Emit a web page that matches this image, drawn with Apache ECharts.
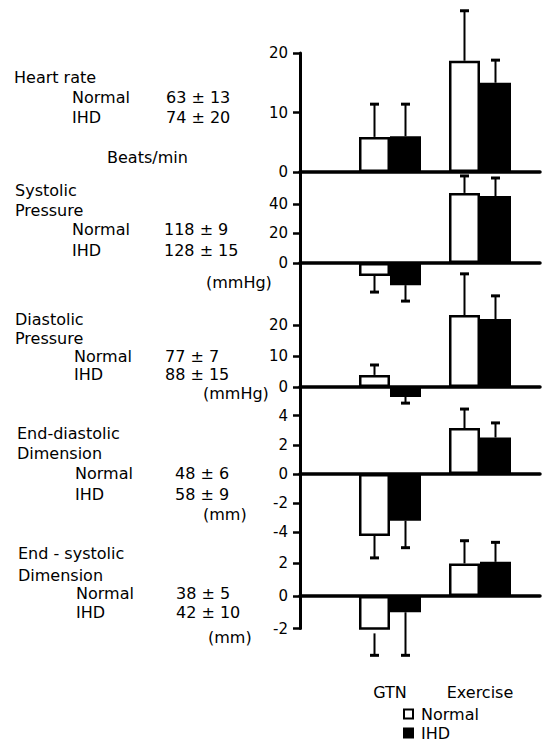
<!DOCTYPE html>
<html>
<head>
<meta charset="utf-8">
<script src="https://cdn.jsdelivr.net/npm/echarts@6/dist/echarts.min.js"></script>
<style>
  html, body { margin: 0; padding: 0; background: #fff; }
  #chart { width: 543px; height: 742px; }
</style>
</head>
<body>
<div id="chart"></div>
<script>
// ---------------- DATA ----------------
const categories = ['GTN', 'Exercise'];
const groups = ['Normal', 'IHD'];

const heartRateNormal   = [5.9, 18.7];
const heartRateNormalSD = [5.5, 8.4];
const heartRateIHD      = [6.0, 15.0];
const heartRateIHDSD    = [5.4, 3.8];

const systolicNormal    = [-8.8, 47.5];
const systolicNormalSD  = [10.9, 11.5];
const systolicIHD       = [-15.0, 45.4];
const systolicIHDSD     = [10.8, 12.2];

const diastolicNormal   = [3.9, 23.2];
const diastolicNormalSD = [3.2, 13.3];
const diastolicIHD      = [-3.2, 21.9];
const diastolicIHDSD    = [2.0, 7.5];

const edDimNormal       = [-4.25, 3.15];
const edDimNormalSD     = [1.5, 1.3];
const edDimIHD          = [-3.2, 2.5];
const edDimIHDSD        = [1.85, 1.0];

const esDimNormal       = [-2.3, 2.0];
const esDimNormalSD     = [1.35, 1.4];
const esDimIHD          = [-1.0, 2.1];
const esDimIHDSD        = [2.65, 1.2];

const heartRateTicks = [0, 10, 20];
const systolicTicks  = [0, 20, 40];
const diastolicTicks = [0, 10, 20];
const edDimTicks     = [-4, -2, 0, 2, 4];
const esDimTicks     = [-2, 0, 2];

const panelTitles = [['Heart rate'], ['Systolic', 'Pressure'], ['Diastolic', 'Pressure'], ['End-diastolic', 'Dimension'], ['End - systolic', 'Dimension']];
const baselineNormal = ['63 ± 13', '118 ± 9', '77 ± 7', '48 ± 6', '38 ± 5'];
const baselineIHD    = ['74 ± 20', '128 ± 15', '88 ± 15', '58 ± 9', '42 ± 10'];
const units          = ['Beats/min', '(mmHg)', '(mmHg)', '(mm)', '(mm)'];

// ---------------- LAYOUT ----------------
const FONT = 'DejaVu Sans';
const BAR_W = 31;
const panels = [
  { normal: heartRateNormal, normalSD: heartRateNormalSD, ihd: heartRateIHD, ihdSD: heartRateIHDSD, ticks: heartRateTicks, min: 0,    max: 20,  top: 53,    bottom: 172 },
  { normal: systolicNormal,  normalSD: systolicNormalSD,  ihd: systolicIHD,  ihdSD: systolicIHDSD,  ticks: systolicTicks,  min: -25,  max: 62,  top: 171.5, bottom: 299.9 },
  { normal: diastolicNormal, normalSD: diastolicNormalSD, ihd: diastolicIHD, ihdSD: diastolicIHDSD, ticks: diastolicTicks, min: -6,   max: 28,  top: 300.2, bottom: 405.6 },
  { normal: edDimNormal,     normalSD: edDimNormalSD,     ihd: edDimIHD,     ihdSD: edDimIHDSD,     ticks: edDimTicks,     min: -4.9, max: 4.7, top: 405.4, bottom: 545.5 },
  { normal: esDimNormal,     normalSD: esDimNormalSD,     ihd: esDimIHD,     ihdSD: esDimIHDSD,     ticks: esDimTicks,     min: -2,   max: 3.1, top: 545.6, bottom: 628.5 }
];
const textLayout = [
  { tx: 14, ty: [77],       gx: 72, vx: 166, ny: 97,  iy: 117, ux: 107, uy: 157 },
  { tx: 15, ty: [190, 210], gx: 72, vx: 164, ny: 229, iy: 250, ux: 206, uy: 282 },
  { tx: 15, ty: [319, 338], gx: 74, vx: 165, ny: 356, iy: 374, ux: 203, uy: 393 },
  { tx: 17, ty: [433, 453], gx: 75, vx: 175, ny: 473, iy: 494, ux: 203, uy: 514 },
  { tx: 18, ty: [553, 575], gx: 76, vx: 176, ny: 593, iy: 612, ux: 208, uy: 637 }
];

const GRID_LEFT = 300, GRID_RIGHT = 3;
const X_MIN = -1, X_MAX = 1.6667;

const grids = [], xAxes = [], yAxes = [], series = [];

function errRenderer(side) {
  return function (params, api) {
    const x = api.value(0), v = api.value(1), sd = api.value(2);
    const end = v >= 0 ? v + sd : v - sd;
    const p0 = api.coord([x, v]);
    const p1 = api.coord([x, end]);
    const cx = p0[0] + side * BAR_W / 2;
    return {
      type: 'group',
      children: [
        { type: 'line', shape: { x1: cx, y1: p0[1], x2: cx, y2: p1[1] }, style: { stroke: '#000', lineWidth: 2 } },
        { type: 'line', shape: { x1: cx - 4.5, y1: p1[1], x2: cx + 4.5, y2: p1[1] }, style: { stroke: '#000', lineWidth: 3 } }
      ]
    };
  };
}

panels.forEach((p, k) => {
  grids.push({ left: GRID_LEFT, right: GRID_RIGHT, top: p.top, height: p.bottom - p.top, containLabel: false });
  xAxes.push({
    type: 'value', gridIndex: k, min: X_MIN, max: X_MAX,
    axisLine: { show: true, onZero: true, lineStyle: { color: '#000', width: 3.5 } },
    axisTick: { show: false }, axisLabel: { show: false }, splitLine: { show: false }
  });
  yAxes.push({
    type: 'value', gridIndex: k, min: p.min, max: p.max,
    axisLine: { show: true, onZero: false, lineStyle: { color: '#000', width: 3 } },
    axisTick: { show: true, inside: false, length: 7, customValues: p.ticks, lineStyle: { color: '#000', width: 2.5 } },
    axisLabel: { show: true, customValues: p.ticks, margin: 12, color: '#000', fontFamily: FONT, fontSize: 15 },
    splitLine: { show: false }
  });
  const mk = (vals) => categories.map((c, i) => [i, vals[i]]);
  const mkE = (vals, sds) => categories.map((c, i) => [i, vals[i], sds[i]]);
  series.push({
    name: groups[0], type: 'bar', xAxisIndex: k, yAxisIndex: k, data: mk(p.normal),
    barWidth: BAR_W, barGap: '0%',
    itemStyle: { color: '#fff', borderColor: '#000', borderWidth: 2.5 }, z: 2
  });
  series.push({
    name: groups[1], type: 'bar', xAxisIndex: k, yAxisIndex: k, data: mk(p.ihd),
    barWidth: BAR_W, barGap: '0%',
    itemStyle: { color: '#000', borderColor: '#000', borderWidth: 2.5 }, z: 2
  });
  series.push({
    name: groups[0] + ' SD', type: 'custom', xAxisIndex: k, yAxisIndex: k, data: mkE(p.normal, p.normalSD),
    renderItem: errRenderer(-1), clip: false, encode: { x: 0, y: 1 }, z: 3, silent: true
  });
  series.push({
    name: groups[1] + ' SD', type: 'custom', xAxisIndex: k, yAxisIndex: k, data: mkE(p.ihd, p.ihdSD),
    renderItem: errRenderer(1), clip: false, encode: { x: 0, y: 1 }, z: 3, silent: true
  });
});

// category labels under the last panel
xAxes.push({
  type: 'value', gridIndex: panels.length - 1, min: X_MIN, max: X_MAX, position: 'bottom',
  axisLine: { show: false }, axisTick: { show: false }, splitLine: { show: false },
  axisLabel: { show: true, customValues: categories.map((c, i) => i), formatter: (v) => categories[Math.round(v)],
               margin: 56, color: '#000', fontFamily: FONT, fontSize: 16 }
});

// left-side text
const textEls = [];
function addText(str, x, y) {
  textEls.push({
    type: 'text', x: x, y: y, silent: true,
    style: { text: str, fill: '#000', font: '16px "' + FONT + '"', textAlign: 'left', textVerticalAlign: 'middle', align: 'left', verticalAlign: 'middle' }
  });
}
panels.forEach((p, k) => {
  const L = textLayout[k];
  panelTitles[k].forEach((t, j) => addText(t, L.tx, L.ty[j]));
  addText(groups[0], L.gx, L.ny);
  addText(baselineNormal[k], L.vx, L.ny);
  addText(groups[1], L.gx, L.iy);
  addText(baselineIHD[k], L.vx, L.iy);
  addText(units[k], L.ux, L.uy);
});

const chart = echarts.init(document.getElementById('chart'), null, { renderer: 'svg' });
chart.setOption({
  animation: false,
  backgroundColor: '#fff',
  grid: grids,
  xAxis: xAxes,
  yAxis: yAxes,
  series: series,
  legend: {
    data: groups, orient: 'vertical', left: 403, top: 705, height: 60, width: 120,
    itemWidth: 9, itemHeight: 9, itemGap: 1, icon: 'rect', padding: 0,
    textStyle: { color: '#000', fontFamily: FONT, fontSize: 16, lineHeight: 18, padding: [0, 0, 0, 3] },
    selectedMode: false
  },
  graphic: textEls
});
</script>
</body>
</html>
